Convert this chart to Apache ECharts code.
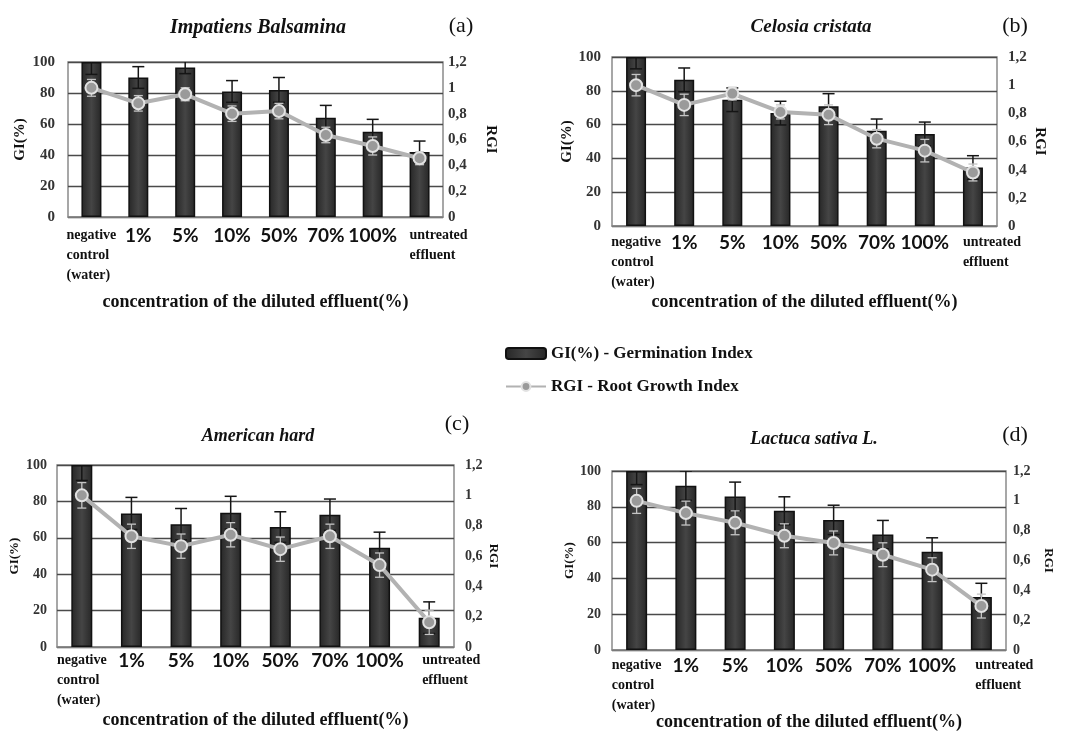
<!DOCTYPE html>
<html><head><meta charset="utf-8">
<script src="https://cdn.jsdelivr.net/npm/echarts@6/dist/echarts.min.js"></script>
<style>html,body{margin:0;padding:0;background:#fff}#c{width:1066px;height:732px}</style>
</head><body><div id="c"></div>
<script>
// ---- data ----
const categories = ['negative\ncontrol\n(water)', '1%', '5%', '10%', '50%', '70%', '100%', 'untreated\neffluent'];
const panelTitles = ['Impatiens Balsamina', 'Celosia cristata', 'American hard', 'Lactuca sativa L.'];
const panelLetters = ['(a)', '(b)', '(c)', '(d)'];
const giTicks = [0, 20, 40, 60, 80, 100];
const rgiTicks = [0, 0.2, 0.4, 0.6, 0.8, 1, 1.2];

const giA = [100, 90, 96.5, 81, 82, 64, 55, 42];
const giErrA = [8, 7, 4, 7, 8, 8, 8, 7];
const rgiA = [1.0, 0.88, 0.95, 0.80, 0.82, 0.635, 0.55, 0.455];
const rgiErrA = [0.065, 0.06, 0.05, 0.06, 0.06, 0.06, 0.07, 0.05];

const giB = [100, 86.5, 74.7, 66.8, 70.8, 56.3, 54.5, 34.6];
const giErrB = [7, 7, 7, 7, 7.5, 7, 7, 7];
const rgiB = [1.0, 0.86, 0.94, 0.81, 0.79, 0.62, 0.535, 0.38];
const rgiErrB = [0.076, 0.076, 0.045, 0.05, 0.07, 0.065, 0.08, 0.06];

const giC = [100, 73.4, 67.5, 73.8, 65.9, 72.7, 54.5, 16.1];
const giErrC = [8.5, 8.8, 8.6, 9, 8.4, 8.6, 8.6, 8.7];
const rgiC = [1.0, 0.73, 0.665, 0.74, 0.645, 0.73, 0.54, 0.163];
const rgiErrC = [0.084, 0.08, 0.08, 0.08, 0.08, 0.08, 0.08, 0.08];

const giD = [100, 91.8, 85.8, 77.8, 72.7, 64.5, 54.9, 29.6];
const giErrD = [7.6, 8.2, 8, 7.8, 8.2, 7.9, 7.8, 7.7];
const rgiD = [1.0, 0.918, 0.853, 0.766, 0.718, 0.639, 0.539, 0.295];
const rgiErrD = [0.084, 0.08, 0.08, 0.08, 0.08, 0.08, 0.08, 0.08];

const xAxisName = 'concentration of the diluted effluent(%)';
const giName = 'GI(%)';
const rgiName = 'RGI';
const legendGI = 'GI(%) - Germination Index';
const legendRGI = 'RGI - Root Growth Index';

// ---- layout (styles only) ----
const panels = [
  {gi: giA, giErr: giErrA, rgi: rgiA, rgiErr: rgiErrA, grid: {left: 68, top: 62, width: 375, height: 155},
   title: {x: 253, y: 13, size: 20}, letter: {x: 456, y: 10}, xGap: 76, uPad: 38, lName: 15, lGap: 40, rGap: 40, lMargin: 13, rMargin: 5, tick: 15, catMargin: 8, bw: 20},
  {gi: giB, giErr: giErrB, rgi: rgiB, rgiErr: rgiErrB, grid: {left: 612, top: 57, width: 385, height: 169},
   title: {x: 806, y: 13, size: 19}, letter: {x: 1010, y: 10}, xGap: 67, uPad: 38, lName: 15, lGap: 36, rGap: 35, lMargin: 11, rMargin: 11, tick: 15, catMargin: 6, bw: 20},
  {gi: giC, giErr: giErrC, rgi: rgiC, rgiErr: rgiErrC, grid: {left: 57, top: 465, width: 397, height: 182},
   title: {x: 253, y: 422, size: 18}, letter: {x: 452, y: 408}, xGap: 64, uPad: 44, lName: 13, lGap: 36, rGap: 33, lMargin: 10, rMargin: 11, tick: 14, catMargin: 3, bw: 21},
  {gi: giD, giErr: giErrD, rgi: rgiD, rgiErr: rgiErrD, grid: {left: 612, top: 471, width: 394, height: 183},
   title: {x: 809, y: 425, size: 18}, letter: {x: 1010, y: 419}, xGap: 60, uPad: 46, lName: 13, lGap: 33, rGap: 36, lMargin: 11, rMargin: 7, tick: 14, catMargin: 5, bw: 21}
];

const SERIF = '"Liberation Serif","Times New Roman",serif';
const barGrad = {type: 'linear', x: 0, y: 0, x2: 1, y2: 0, colorStops: [
  {offset: 0, color: '#262626'}, {offset: 0.5, color: '#454545'}, {offset: 1, color: '#262626'}]};

function errSeries(xi, yi, vals, errs, color, capW, z, lw) {
  return {
    type: 'custom', xAxisIndex: xi, yAxisIndex: yi, clip: true, z: z, silent: true,
    data: vals.map((v, i) => [i, v - errs[i], v + errs[i]]),
    renderItem(params, api) {
      const lo = api.coord([api.value(0), api.value(1)]);
      const hi = api.coord([api.value(0), api.value(2)]);
      const x = lo[0];
      const st = {stroke: color, lineWidth: lw};
      return {type: 'group', children: [
        {type: 'line', shape: {x1: x, y1: lo[1], x2: x, y2: hi[1]}, style: st},
        {type: 'line', shape: {x1: x - capW / 2, y1: hi[1], x2: x + capW / 2, y2: hi[1]}, style: st},
        {type: 'line', shape: {x1: x - capW / 2, y1: lo[1], x2: x + capW / 2, y2: lo[1]}, style: st}
      ]};
    }
  };
}

const grids = [], xAxes = [], yAxes = [], series = [], titles = [];
panels.forEach((p, k) => {
  grids.push(Object.assign({show: true, borderColor: '#8a8a8a', borderWidth: 1.5, backgroundColor: '#fff'}, p.grid));
  titles.push({text: panelTitles[k], left: p.title.x, top: p.title.y, textAlign: 'center',
    textStyle: {fontFamily: SERIF, fontStyle: 'italic', fontWeight: 'bold', fontSize: p.title.size, color: '#111'}});
  titles.push({text: panelLetters[k], left: p.letter.x, top: p.letter.y, textAlign: 'center',
    textStyle: {fontFamily: SERIF, fontWeight: 'normal', fontSize: 22, color: '#111'}});
  xAxes.push({
    type: 'category', gridIndex: k, data: categories, boundaryGap: true,
    axisLine: {lineStyle: {color: '#8a8a8a', width: 1.5}}, axisTick: {show: false},
    name: xAxisName, nameLocation: 'middle', nameGap: p.xGap,
    nameTextStyle: {fontFamily: SERIF, fontWeight: 'bold', fontSize: 18, color: '#111'},
    axisLabel: {
      interval: 0, margin: p.catMargin,
      formatter: (v, i) => {
        if (v.indexOf('\n') < 0) return '{p|' + v + '}';
        const key = i === 0 ? 't' : 'u';
        return v.split('\n').map(s => '{' + key + '|' + s + '}').join('\n');
      },
      rich: {
        p: {fontFamily: 'Lato, "Liberation Sans", sans-serif', fontWeight: 'bold', fontSize: 19, color: '#111', lineHeight: 22},
        t: {fontFamily: SERIF, fontWeight: 'bold', fontSize: 14, color: '#111', lineHeight: 20, align: 'left'},
        u: {fontFamily: SERIF, fontWeight: 'bold', fontSize: 14, color: '#111', lineHeight: 20, align: 'left', padding: [0, 0, 0, p.uPad]}
      }
    }
  });
  yAxes.push({
    type: 'value', gridIndex: k, min: giTicks[0], max: giTicks[giTicks.length - 1], interval: 20,
    name: giName, nameLocation: 'middle', nameGap: p.lGap, nameRotate: 90,
    nameTextStyle: {fontFamily: SERIF, fontWeight: 'bold', fontSize: p.lName, color: '#111'},
    axisLine: {show: false}, axisTick: {show: false},
    axisLabel: {fontFamily: SERIF, fontWeight: 'bold', fontSize: p.tick, color: '#333', margin: p.lMargin},
    splitLine: {lineStyle: {color: '#4a4a4a', width: 1.3}}
  });
  yAxes.push({
    type: 'value', gridIndex: k, position: 'right', min: rgiTicks[0], max: rgiTicks[rgiTicks.length - 1], interval: 0.2,
    name: rgiName, nameLocation: 'middle', nameGap: p.rGap, nameRotate: -90,
    nameTextStyle: {fontFamily: SERIF, fontWeight: 'bold', fontSize: p.lName, color: '#111'},
    axisLine: {show: false}, axisTick: {show: false}, splitLine: {show: false},
    axisLabel: {fontFamily: SERIF, fontWeight: 'bold', fontSize: p.tick, color: '#333', margin: p.rMargin,
      formatter: v => String(+v.toFixed(1)).replace('.', ',')}
  });
  series.push({
    name: legendGI, type: 'bar', xAxisIndex: k, yAxisIndex: 2 * k, data: p.gi, barWidth: p.bw, z: 2,
    itemStyle: {color: barGrad, borderColor: '#111', borderWidth: 1.5}
  });
  series.push(errSeries(k, 2 * k, p.gi, p.giErr, '#151515', 12, 3, 1.5));
  series.push(errSeries(k, 2 * k + 1, p.rgi, p.rgiErr, '#c4c4c4', 9, 4, 1.3));
  series.push({
    name: legendRGI, type: 'line', xAxisIndex: k, yAxisIndex: 2 * k + 1, data: p.rgi, z: 5,
    symbol: 'circle', symbolSize: 12,
    lineStyle: {color: '#b2b2b2', width: 4},
    itemStyle: {color: '#9a9a9a', borderColor: '#e2e2e2', borderWidth: 2}
  });
});

const chart = echarts.init(document.getElementById('c'), null, {renderer: 'canvas'});
chart.setOption({
  backgroundColor: '#fff',
  animation: false,
  title: titles,
  legend: {
    data: [legendGI, legendRGI], orient: 'vertical', left: 500, top: 340, itemWidth: 40, itemHeight: 11, itemGap: 16,
    textStyle: {fontFamily: SERIF, fontWeight: 'bold', fontSize: 17, color: '#111'}
  },
  grid: grids, xAxis: xAxes, yAxis: yAxes, series: series
});
</script></body></html>
